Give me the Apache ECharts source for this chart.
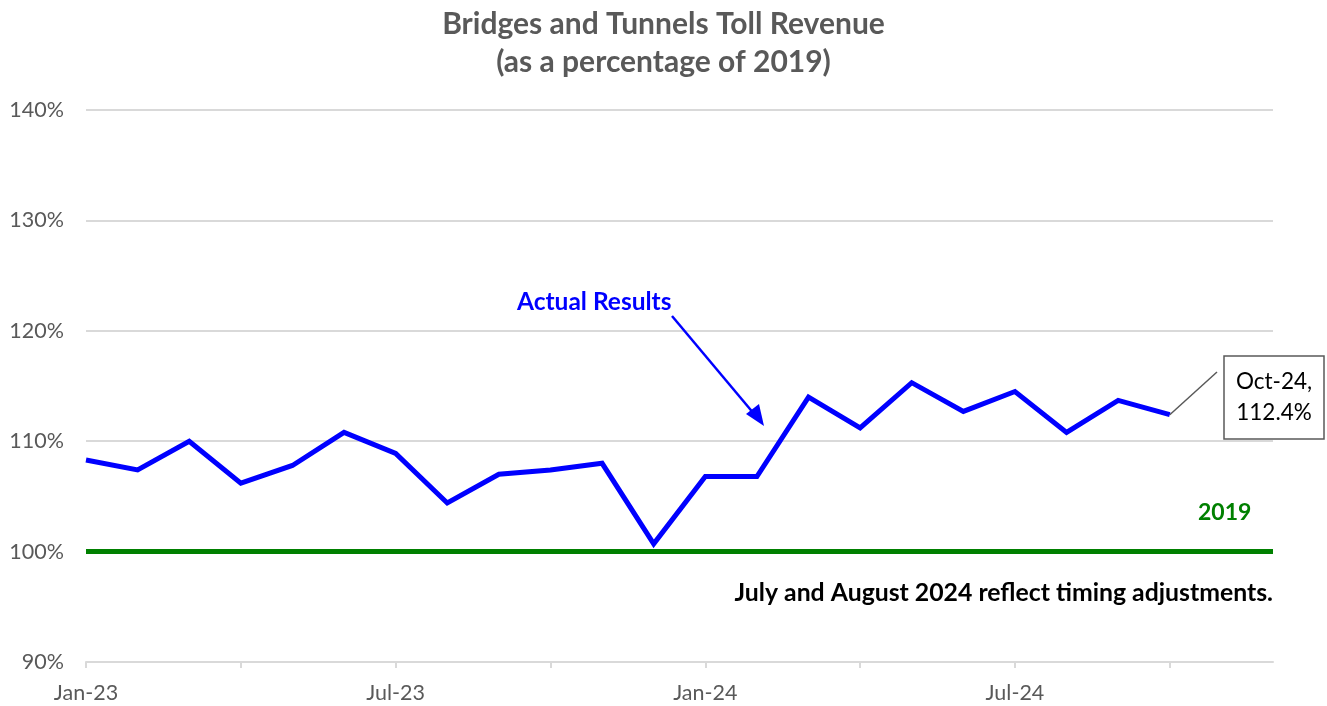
<!DOCTYPE html>
<html>
<head>
<meta charset="utf-8">
<script src="https://cdn.jsdelivr.net/npm/echarts@6/dist/echarts.min.js"></script>
<style>
html,body{margin:0;padding:0;background:#fff;}
#chart{width:1327px;height:706px;}
</style>
</head>
<body>
<div id="chart"></div>
<script>
var months = ['Jan-23','Feb-23','Mar-23','Apr-23','May-23','Jun-23','Jul-23','Aug-23','Sep-23','Oct-23','Nov-23','Dec-23',
              'Jan-24','Feb-24','Mar-24','Apr-24','May-24','Jun-24','Jul-24','Aug-24','Sep-24','Oct-24','Nov-24','Dec-24'];
var actual = [108.3,107.4,110.0,106.2,107.8,110.8,108.9,104.4,107.0,107.4,108.0,100.7,
              106.8,106.8,114.0,111.2,115.3,112.7,114.5,110.8,113.7,112.4,null,null];
var baseline = [100,100,100,100,100,100,100,100,100,100,100,100,100,100,100,100,100,100,100,100,100,100,100,100];
var titleText = 'Bridges and Tunnels Toll Revenue\n(as a percentage of 2019)';
var noteText = 'July and August 2024 reflect timing adjustments.';

var FONT = 'Lato, "Open Sans", sans-serif';
var chart = echarts.init(document.getElementById('chart'), null, {renderer:'canvas'});
var option = {
  animation:false,
  backgroundColor:'#ffffff',
  title:{
    text:titleText, left:'center', top:0,
    textStyle:{fontFamily:FONT, fontSize:30, fontWeight:'bold', color:'#595959', lineHeight:38}
  },
  grid:{left:86, right:54, top:110, bottom:44, containLabel:false},
  xAxis:{
    type:'category', data:months, boundaryGap:false,
    axisLine:{lineStyle:{color:'#d9d9d9', width:2}},
    axisTick:{show:true, interval:2, length:6, lineStyle:{color:'#d9d9d9', width:2}},
    axisLabel:{interval:5, margin:20, color:'#595959', fontFamily:FONT, fontSize:21.5},
    splitLine:{show:false}
  },
  yAxis:{
    type:'value', min:90, max:140, interval:10,
    axisLine:{show:false}, axisTick:{show:false},
    axisLabel:{formatter:'{value}%', margin:22, color:'#595959', fontFamily:FONT, fontSize:21.5},
    splitLine:{lineStyle:{color:'#d9d9d9', width:2}}
  },
  series:[
    {name:'2019', type:'line', data:baseline, symbol:'none',
     lineStyle:{color:'#008000', width:5}, z:2},
    {name:'Actual Results', type:'line', data:actual, symbol:'none',
     lineStyle:{color:'#0000ff', width:5, join:'miter'}, z:3}
  ]
};
chart.setOption(option);

// annotations positioned from data coordinates
var pLast = chart.convertToPixel({seriesIndex:1}, [21, actual[21]]);
var boxX = 1224, boxY = 356, boxW = 100, boxH = 83;
chart.setOption({
  graphic:[
    {type:'text', x:517, y:302, style:{text:'Actual Results', fill:'#0000ff', font:'bold 24.5px '+FONT, verticalAlign:'middle'}},
    {type:'line', shape:{x1:672, y1:316, x2:755, y2:415}, style:{stroke:'#0000ff', lineWidth:2.5}},
    {type:'polygon', shape:{points:[[764,426],[746,414],[759,404]]}, style:{fill:'#0000ff'}},
    {type:'text', x:1198, y:513, style:{text:'2019', fill:'#008000', font:'bold 23px '+FONT, verticalAlign:'middle'}},
    {type:'text', x:1273, y:593, style:{text:noteText, fill:'#000000', font:'bold 24.8px '+FONT, align:'right', verticalAlign:'middle'}},
    {type:'line', shape:{x1:pLast[0], y1:pLast[1], x2:boxX-7, y2:372}, style:{stroke:'#595959', lineWidth:1.5}},
    {type:'rect', shape:{x:boxX, y:boxY, width:boxW, height:boxH}, style:{fill:'#ffffff', stroke:'#595959', lineWidth:1.5}},
    {type:'text', x:boxX+boxW/2, y:boxY+boxH/2, style:{text:'Oct-24,\n112.4%', fill:'#000000', font:'22.5px '+FONT, align:'center', verticalAlign:'middle', lineHeight:31}}
  ]
});
</script>
</body>
</html>
